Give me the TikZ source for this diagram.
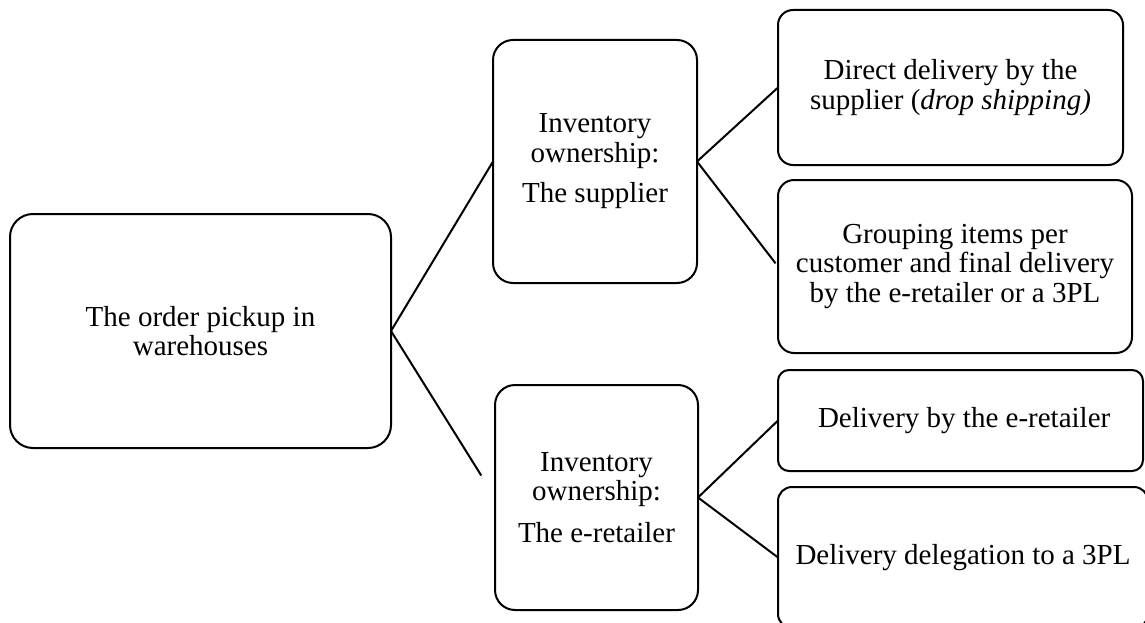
\documentclass[tikz,border=0pt]{standalone}
\usepackage{fontspec}
\setmainfont{Liberation Serif}
\begin{document}
\begin{tikzpicture}[x=1pt,y=-1pt,
  box/.style={draw, line width=2pt, rounded corners=#1, inner sep=0pt, outer sep=0pt,
    align=center, font=\fontsize{29}{29.5}\selectfont},
  box/.default=15pt,
  conn/.style={line width=2pt}]
\useasboundingbox (0,0) rectangle (1145,623);
\node[box=23pt, minimum width=381pt, minimum height=234pt] (A) at (200.5,331)
  {The order pickup in\\warehouses};
\node[box=20pt, minimum width=204pt, minimum height=243pt] (B) at (595,161.5)
  {Inventory\\ownership:\\[11pt]The supplier};
\node[box=20pt, minimum width=203pt, minimum height=225pt] (C) at (596.5,497.5)
  {Inventory\\ownership:\\[12pt]The e-retailer};
\node[box=15pt, minimum width=345pt, minimum height=155pt] (D1) at (950.5,87.5)
  {Direct delivery by the\\supplier (\textit{drop shipping)}};
\node[box=16pt, minimum width=354pt, minimum height=173pt] (D2) at (955,266.5)
  {Grouping items per\\customer and final delivery\\by the e-retailer or a 3PL};
\node[box=11pt, minimum width=365pt, minimum height=101pt] (D3) at (960.5,420.5)
  {\ Delivery by the e-retailer};
\node[box=14pt, minimum width=370pt, minimum height=141pt] (D4) at (963,557.5)
  {Delivery delegation to a 3PL};
\draw[conn] (A.east) -- (B.west);
\draw[conn, shorten >=26pt] (A.east) -- (C.west);
\draw[conn] (B.east) -- (D1.west);
\draw[conn, shorten >=4pt] (B.east) -- (D2.west);
\draw[conn] (C.east) -- (D3.west);
\draw[conn] (C.east) -- (D4.west);
\end{tikzpicture}
\end{document}
